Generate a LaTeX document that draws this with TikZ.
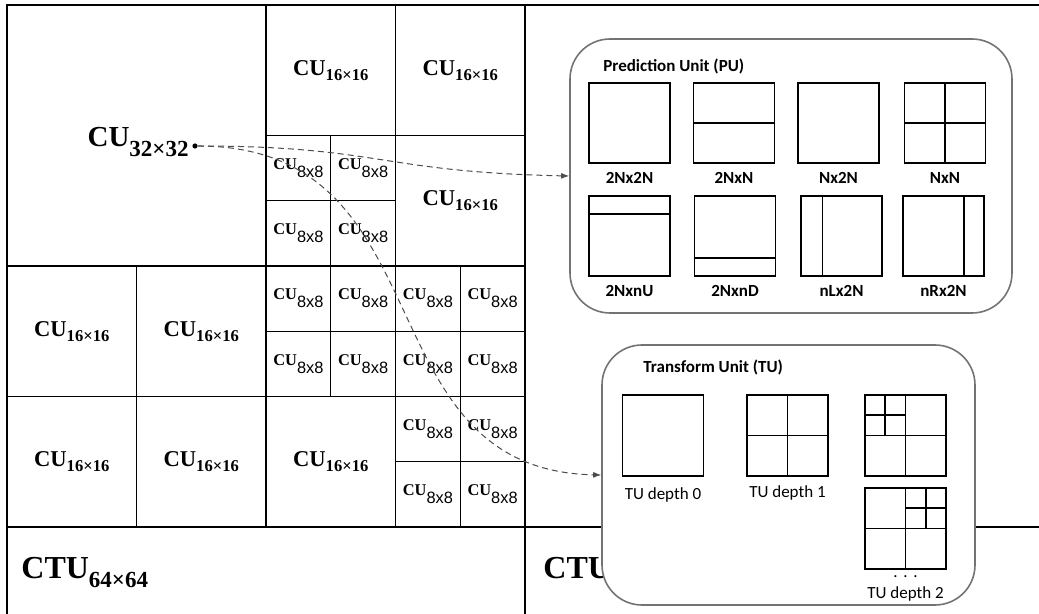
\documentclass[tikz,border=0pt]{standalone}
\usepackage{fontspec}
\setmainfont{Liberation Serif}
\setsansfont{Liberation Sans}
\newfontfamily\panelfont{Carlito}
\usetikzlibrary{arrows.meta,positioning,calc}

\newcommand{\cusixteen}{CU\raisebox{-2.5pt}{\fontsize{8.3pt}{8.3pt}\selectfont 16×16}}
\newcommand{\cueight}{CU\raisebox{-4pt}{\sffamily\mdseries\fontsize{8.2pt}{8.2pt}\selectfont 8x8}}
\newcommand{\ctusub}{CTU\raisebox{-5pt}{\fontsize{11.5pt}{11.5pt}\selectfont 64×64}}

\begin{document}
\begin{tikzpicture}[x=0.5pt, y=-0.5pt,
    cell/.style={draw, line width=0.6pt, inner sep=0pt},
    cu32/.style={cell, minimum width=129.5pt, minimum height=130.5pt},
    cu16/.style={cell, minimum width=64.75pt, minimum height=65.25pt, font=\bfseries\fontsize{11.3pt}{11.3pt}\selectfont},
    cu8/.style={cell, minimum width=32.375pt, minimum height=32.625pt, font=\bfseries\fontsize{8.2pt}{8.2pt}\selectfont},
    thickline/.style={line width=1.3pt},
    ctu/.style={anchor=base west, inner sep=0pt, font=\bfseries\fontsize{16pt}{16pt}\selectfont},
    cudot/.style={circle, fill, inner sep=0pt, minimum size=2.6pt},
    arr/.style={-{Latex[length=4pt,width=3pt]}, densely dashed, black!70, line width=0.5pt},
    panel/.style={draw=black!55, line width=0.8pt, rounded corners=20pt, fill=white, inner sep=0pt},
    ptitle/.style={anchor=base west, inner sep=0pt, font=\panelfont\bfseries\fontsize{8.5pt}{8.5pt}\selectfont},
    blk/.style={draw, line width=0.8pt, inner sep=0pt, minimum width=40.5pt, minimum height=40pt},
    part/.style={line width=0.8pt},
    plbl/.style={inner sep=0pt, font=\panelfont\bfseries\fontsize{8.5pt}{8.5pt}\selectfont},
    tlbl/.style={inner sep=0pt, font=\panelfont\fontsize{8.5pt}{8.5pt}\selectfont}
]
\useasboundingbox (0,0) rectangle (1039,614);

% CTU quadtree
\node[cu32] (q32) at (136.5,135.5) {};
\foreach \x/\y [count=\i] in {330.75/70.25, 460.25/70.25, 460.25/200.75, 71.75/331.25,
    201.25/331.25, 71.75/461.75, 201.25/461.75, 330.75/461.75}
  \node[cu16] (c16-\i) at (\x,\y) {\cusixteen};
\foreach \x/\y [count=\i] in {298.4/168.1, 363.1/168.1, 298.4/233.4, 363.1/233.4,
    298.4/298.6, 363.1/298.6, 427.9/298.6, 492.6/298.6,
    298.4/363.9, 363.1/363.9, 427.9/363.9, 492.6/363.9,
    427.9/429.1, 492.6/429.1, 427.9/494.4, 492.6/494.4}
  \node[cu8] (c8-\i) at (\x,\y) {\cueight};

\node[anchor=base east, inner sep=0pt, font=\bfseries\fontsize{14.5pt}{14.5pt}\selectfont] (l32) at (189,147)
  {CU\raisebox{-5pt}{\fontsize{11.5pt}{11.5pt}\selectfont 32×32}};
\node[cudot] (c32dot) at (195,146) {};

\draw[thickline] (7,5) -- (1039,5);
\draw[thickline] (7,5) -- (7,614);
\draw[thickline] (525,5) -- (525,614);
\draw[thickline] (7,527) -- (1039,527);

\node[ctu] (ctu1) at (21,578) {\ctusub};
\node[ctu] (ctu2) at (543,578) {\ctusub};

% prediction units
\node[panel, minimum width=221pt, minimum height=137pt] (pu) at (791,176) {};
\node[ptitle] (putitle) at (603,71.5) {Prediction Unit (PU)};
\foreach \n/\x/\y/\t in {pu1/629.5/123/2Nx2N, pu2/734/123/2NxN, pu3/838.5/123/Nx2N, pu4/945/123/NxN,
    pu5/629.5/236/2NxnU, pu6/735/236/2NxnD, pu7/841.5/236/nLx2N, pu8/943.5/236/nRx2N}
{
  \node[blk] (\n) at (\x,\y) {};
  \node[plbl, below=4pt of \n] (\n-lbl) {\t};
}
\draw[part] (pu2.west) -- (pu2.east);
\draw[part] (pu4.west) -- (pu4.east);
\draw[part] (pu4.north) -- (pu4.south);
\draw[part] ($(pu5.north west)!0.23!(pu5.south west)$) -- ($(pu5.north east)!0.23!(pu5.south east)$);
\draw[part] ($(pu6.north west)!0.77!(pu6.south west)$) -- ($(pu6.north east)!0.77!(pu6.south east)$);
\draw[part] ($(pu7.north west)!0.27!(pu7.north east)$) -- ($(pu7.south west)!0.27!(pu7.south east)$);
\draw[part] ($(pu8.north west)!0.75!(pu8.north east)$) -- ($(pu8.south west)!0.75!(pu8.south east)$);

% transform units
\node[panel, minimum width=186.5pt, minimum height=130pt] (tu) at (788.5,475) {};
\node[ptitle] (tutitle) at (643,373) {Transform Unit (TU)};
\node[blk, minimum height=40.5pt] (t0) at (663,435.5) {};
\node[blk, minimum height=40.5pt] (t1) at (787.5,435.5) {};
\node[blk, minimum height=40.5pt] (t2a) at (905.5,435.5) {};
\node[blk, minimum height=40.5pt] (t2b) at (905.5,528.5) {};
\node[tlbl, below=5pt of t0] (t0-lbl) {TU depth 0};
\node[tlbl, below=4pt of t1] (t1-lbl) {TU depth 1};
\node[tlbl, below=2.5pt of t2b] (t2-dots) {.\,\,.\,\,.};
\node[tlbl, below=4.5pt of t2-dots] (t2-lbl) {TU depth 2};

\draw[part] (t1.west) -- (t1.east);
\draw[part] (t1.north) -- (t1.south);
\draw[part] (t2a.west) -- (t2a.east);
\draw[part] (t2a.north) -- (t2a.south);
\draw[part] ($(t2a.north west)!0.5!(t2a.west)$) -- ($(t2a.north)!0.5!(t2a.center)$);
\draw[part] ($(t2a.north west)!0.5!(t2a.north)$) -- ($(t2a.west)!0.5!(t2a.center)$);
\draw[part] (t2b.west) -- (t2b.east);
\draw[part] (t2b.north) -- (t2b.south);
\draw[part] ($(t2b.north)!0.5!(t2b.center)$) -- ($(t2b.north east)!0.5!(t2b.east)$);
\draw[part] ($(t2b.north)!0.5!(t2b.north east)$) -- ($(t2b.center)!0.5!(t2b.east)$);

% links
\draw[arr] (c32dot) .. controls (380,146) and (380,172) .. (pu.west);
\draw[arr] (c32dot) .. controls (450,146) and (360,470) .. (tu.west);
\end{tikzpicture}
\end{document}
